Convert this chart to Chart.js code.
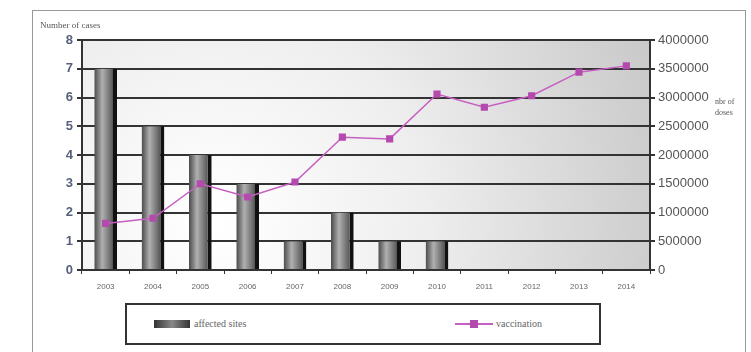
<!DOCTYPE html>
<html>
<head>
<meta charset="utf-8">
<script src="https://cdn.jsdelivr.net/npm/chart.js@4"></script>
<style>
  body { margin: 0; background: #fff; }
  #wrap { position: relative; width: 751px; height: 352px; overflow: hidden; }
  #frame { position: absolute; left: 32px; top: 10px; width: 714px; height: 350px; border: 1px solid #999; box-sizing: border-box; }
  #c { position: absolute; left: 0; top: 0; }
  .note { position: absolute; font-family: "Liberation Serif", serif; color: #555; font-size: 9px; }
  #legend { position: absolute; left: 125px; top: 303px; width: 476px; height: 42px; border: 2px solid #333; box-sizing: border-box; background: #fff; font-family: "Liberation Serif", serif; font-size: 10px; color: #666; }
  .item { position: absolute; top: 13px; display: flex; align-items: center; }
  .barsw { width: 36px; height: 8px; background: linear-gradient(90deg, #333, #888 50%, #333); margin-right: 4px; }
  .linesw { position: relative; width: 38px; height: 10px; margin-right: 3px; }
  .linesw:before { content: ""; position: absolute; left: 0; right: 0; top: 4px; height: 2px; background: #c75fc2; }
  .linesw:after { content: ""; position: absolute; left: 15px; top: 1px; width: 8px; height: 8px; background: #b44aae; }
</style>
</head>
<body>
<div id="wrap">
  <div id="frame"></div>
  <canvas id="c" width="751" height="352"></canvas>
  <div class="note" style="left:40px;top:20px;">Number of cases</div>
  <div class="note" style="left:715px;top:96px;line-height:11px;font-size:8px;">nbr of<br>doses</div>
  <div id="legend">
    <div class="item" style="left:27px;"><span class="barsw"></span>affected sites</div>
    <div class="item" style="left:328px;"><span class="linesw"></span>vaccination</div>
  </div>
</div>
<script>
const years = ['2003','2004','2005','2006','2007','2008','2009','2010','2011','2012','2013','2014'];
const affectedSites = [7, 5, 4, 3, 1, 2, 1, 1, 0, 0, 0, 0];
const vaccination = [810000, 900000, 1500000, 1270000, 1530000, 2310000, 2280000, 3060000, 2830000, 3030000, 3440000, 3550000];

function barFill(ctx) {
  const el = ctx.chart.getDatasetMeta(ctx.datasetIndex).data[ctx.dataIndex];
  if (!el || !el.width) return '#777';
  const g = ctx.chart.ctx.createLinearGradient(el.x - el.width / 2, 0, el.x + el.width / 2, 0);
  g.addColorStop(0, '#4a4a4a');
  g.addColorStop(0.35, '#b0b0b0');
  g.addColorStop(0.75, '#666');
  g.addColorStop(1, '#222');
  return g;
}

const plotBg = {
  id: 'plotBg',
  beforeDraw(chart) {
    const { ctx, chartArea: a } = chart;
    const g = ctx.createRadialGradient(a.left + 130, a.bottom - 50, 10, a.left + 130, a.bottom - 50, 520);
    g.addColorStop(0, '#ffffff');
    g.addColorStop(0.4, '#eeeeee');
    g.addColorStop(1, '#c2c2c2');
    ctx.save();
    ctx.fillStyle = g;
    ctx.fillRect(a.left, a.top, a.right - a.left, a.bottom - a.top);
    ctx.restore();
  }
};

const chart = new Chart(document.getElementById('c'), {
  data: {
    labels: years,
    datasets: [
      {
        type: 'line',
        label: 'vaccination',
        data: vaccination,
        yAxisID: 'y1',
        borderColor: '#c75fc2',
        borderWidth: 1.5,
        pointStyle: 'rect',
        pointRadius: 4,
        pointBackgroundColor: '#b44aae',
        pointBorderColor: '#b44aae',
        order: 0
      },
      {
        type: 'bar',
        label: 'affected sites',
        data: affectedSites,
        yAxisID: 'y',
        backgroundColor: barFill,
        borderColor: '#111',
        borderWidth: { left: 0, right: 4, top: 0, bottom: 0 },
        borderSkipped: false,
        barPercentage: 0.48,
        categoryPercentage: 1,
        order: 1
      }
    ]
  },
  options: {
    responsive: false,
    animation: false,
    layout: { padding: { top: 40, left: 0, right: 0, bottom: 0 } },
    plugins: { legend: { display: false }, tooltip: { enabled: false } },
    scales: {
      x: {
        offset: true,
        grid: { display: true, drawOnChartArea: false, offset: true, tickLength: 4, color: '#333', lineWidth: 1 },
        border: { color: '#333', width: 2 },
        ticks: { color: '#666', font: { family: 'Liberation Sans', size: 8 }, padding: 8, maxRotation: 0 },
        afterFit(s) { s.height = 82; }
      },
      y: {
        position: 'left',
        min: 0, max: 8,
        ticks: { stepSize: 1, color: '#55607a', font: { family: 'Liberation Sans', size: 13, weight: 'bold' }, padding: 4 },
        grid: { color: '#333', lineWidth: 2, tickLength: 5 },
        border: { color: '#333', width: 2 },
        afterFit(s) { s.width = 82; }
      },
      y1: {
        position: 'right',
        min: 0, max: 4000000,
        ticks: { stepSize: 500000, color: '#555', font: { family: 'Liberation Sans', size: 13 }, padding: 3, callback: v => String(v) },
        grid: { drawOnChartArea: false, color: '#333', lineWidth: 2, tickLength: 5 },
        border: { color: '#333', width: 2 },
        afterFit(s) { s.width = 101; }
      }
    }
  },
  plugins: [plotBg]
});
chart.update();
</script>
</body>
</html>
